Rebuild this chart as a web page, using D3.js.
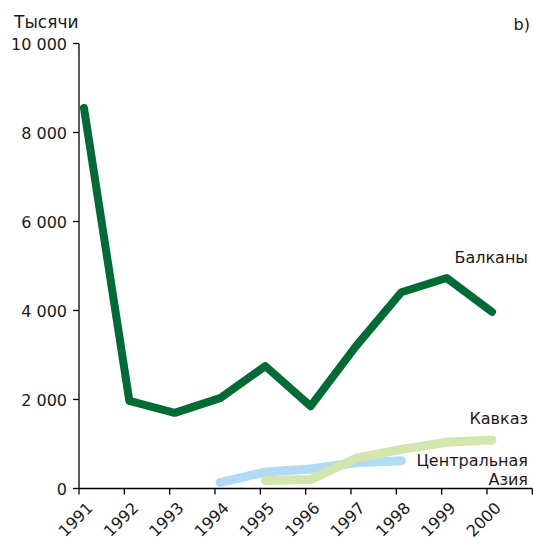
<!DOCTYPE html>
<html>
<head>
<meta charset="utf-8">
<script src="https://cdn.jsdelivr.net/npm/d3@7.9.0/dist/d3.min.js"></script>
<style>
  body { margin: 0; background: #fff; }
  svg { display: block; font-family: "DejaVu Sans", sans-serif; }
  text { fill: #1a1a1a; }
</style>
</head>
<body>
<svg id="chart" width="534" height="538"></svg>
<script>
const years = [1991, 1992, 1993, 1994, 1995, 1996, 1997, 1998, 1999, 2000];
const balkans = [8550, 1970, 1700, 2030, 2750, 1850, 3200, 4410, 4730, 3970];
const centralAsia = [null, null, null, 130, 370, 440, 580, 625, null, null];
const caucasus = [null, null, null, null, 180, 200, 680, 880, 1040, 1090];
const yTicks = [0, 2000, 4000, 6000, 8000, 10000];
const tickYears = [1991, 1992, 1993, 1994, 1995, 1996, 1997, 1998, 1999, 2000, 2001];

const svg = d3.select('#chart');

const x = d3.scaleLinear().domain([1991, 2000]).range([84, 492]);
const y = d3.scaleLinear().domain([0, 10000]).range([488.5, 43.5]);
const axisX = 79;
const fmt = (v) => d3.format(',')(v).replace(/,/g, ' ');

// y axis
svg.append('line')
  .attr('x1', axisX).attr('x2', axisX)
  .attr('y1', y(10000)).attr('y2', y(0))
  .attr('stroke', '#000').attr('stroke-width', 1.3);

yTicks.forEach((t) => {
  svg.append('line')
    .attr('x1', axisX - 6).attr('x2', axisX)
    .attr('y1', y(t)).attr('y2', y(t))
    .attr('stroke', '#000').attr('stroke-width', 1.3);
  svg.append('text')
    .attr('x', 67).attr('y', y(t) + 6)
    .attr('text-anchor', 'end')
    .attr('font-size', 16)
    .text(fmt(t));
});

// x axis
svg.append('line')
  .attr('x1', axisX).attr('x2', x(2001) - 5)
  .attr('y1', y(0)).attr('y2', y(0))
  .attr('stroke', '#000').attr('stroke-width', 1.3);

tickYears.forEach((yr) => {
  svg.append('line')
    .attr('x1', x(yr) - 5).attr('x2', x(yr) - 5)
    .attr('y1', y(0)).attr('y2', y(0) + 6)
    .attr('stroke', '#000').attr('stroke-width', 1.3);
});

years.forEach((yr) => {
  svg.append('text')
    .attr('text-anchor', 'end')
    .attr('font-size', 16)
    .attr('transform', `translate(${x(yr) + 10},${509}) rotate(-45)`)
    .text(yr);
});

// lines
const line = d3.line()
  .defined((d) => d[1] != null)
  .x((d) => x(d[0]))
  .y((d) => y(d[1]));

const series = [
  { values: centralAsia, color: '#b1daf4', width: 9 },
  { values: caucasus, color: '#d3e6ad', width: 9 },
  { values: balkans, color: '#006b35', width: 8 },
];

series.forEach((s) => {
  svg.append('path')
    .datum(years.map((yr, i) => [yr, s.values[i]]))
    .attr('d', line)
    .attr('fill', 'none')
    .attr('stroke', s.color)
    .attr('stroke-width', s.width)
    .attr('stroke-linecap', 'round')
    .attr('stroke-linejoin', 'round');
});

// labels
const labels = [
  { text: 'Балканы', x: 528, y: 263 },
  { text: 'Кавказ', x: 528, y: 424 },
  { text: 'Центральная', x: 528, y: 466 },
  { text: 'Азия', x: 528, y: 485 },
];
labels.forEach((l) => {
  svg.append('text')
    .attr('x', l.x).attr('y', l.y)
    .attr('text-anchor', 'end')
    .attr('font-size', 16)
    .text(l.text);
});

svg.append('text')
  .attr('x', 14).attr('y', 28)
  .attr('font-size', 17)
  .text('Тысячи');

svg.append('text')
  .attr('x', 530).attr('y', 30)
  .attr('text-anchor', 'end')
  .attr('font-size', 16)
  .text('b)');
</script>
</body>
</html>
